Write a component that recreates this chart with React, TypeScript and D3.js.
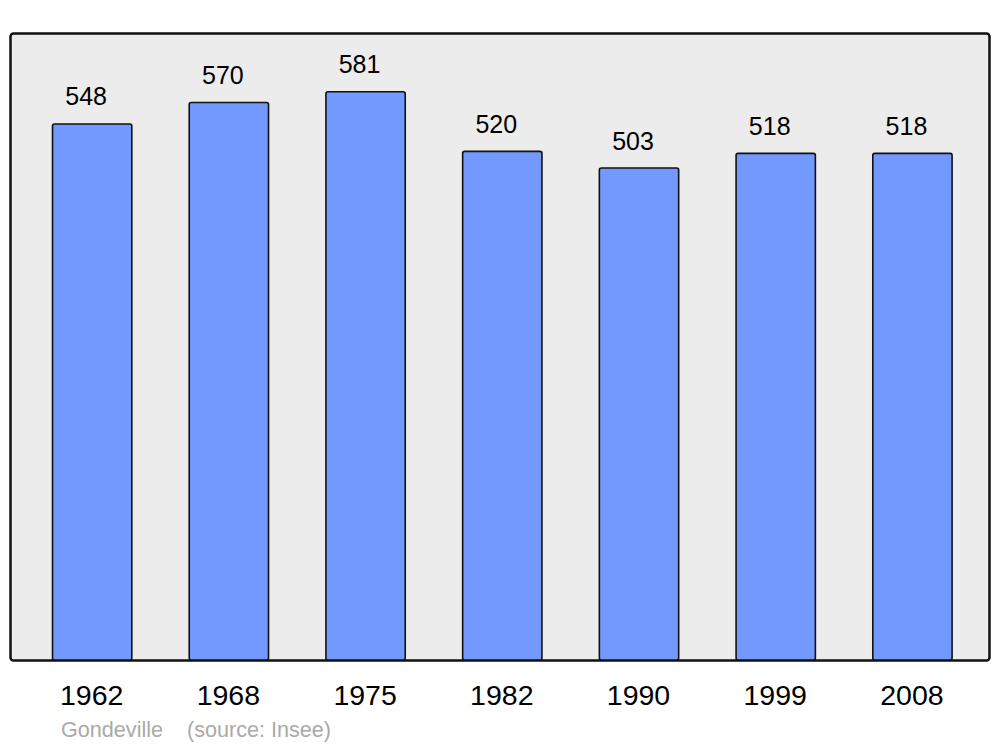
import React from "react";
import * as d3 from "d3";

const years = ["1962", "1968", "1975", "1982", "1990", "1999", "2008"];
const population = [548, 570, 581, 520, 503, 518, 518];
const commune = "Gondeville";
const source = "(source: Insee)";

export default function App() {
  const W = 1000, H = 747;
  const x = d3.scaleBand<string>().domain(years).range([23.8, 980.8]).paddingInner(0.42).paddingOuter(0.21);
  const y = d3.scaleLinear().domain([0, 640]).range([660, 34]);
  const font = "'Liberation Sans', Arial, sans-serif";
  return (
    <svg width={W} height={H} style={{ position: "absolute", left: 0, top: 0, background: "#fff" }} fontFamily={font}>
      <rect x={10.5} y={33.5} width={979} height={627} rx={3} fill="#ececec" stroke="#111" strokeWidth={2.5} />
      {years.map((yr, i) => {
        const v = population[i];
        const bx = x(yr)!;
        return (
          <g key={yr}>
            <rect x={bx} y={y(v)} width={x.bandwidth()} height={y(0) - y(v)} rx={2} fill="#7399ff" stroke="#111" strokeWidth={1.6} />
            <text x={bx + x.bandwidth() / 2 - 6} y={y(v) - 18.5} textAnchor="middle" fontSize={25} fill="#000">{v}</text>
            <text x={bx + x.bandwidth() / 2 - 0.5} y={705} textAnchor="middle" fontSize={28.5} fill="#000">{yr}</text>
          </g>
        );
      })}
      <text x={61} y={737} fontSize={21.6} fill="#aaaaaa">{commune}</text>
      <text x={187} y={737} fontSize={21.6} fill="#aaaaaa">{source}</text>
    </svg>
  );
}
